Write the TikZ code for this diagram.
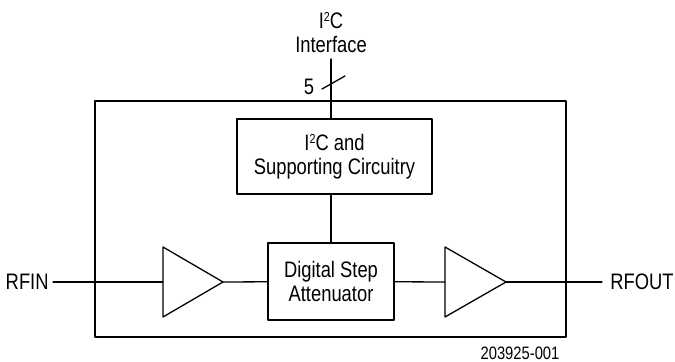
\documentclass[tikz,border=0pt]{standalone}
\usepackage{fontspec}
\setmainfont{Liberation Sans}[FakeStretch=0.82]
\usetikzlibrary{positioning}
\newcommand{\sqtwo}{\raisebox{0.55ex}{\fontsize{6.5}{6.5}\selectfont 2}}

\begin{document}
\begin{tikzpicture}[line cap=round,line join=round,x=0.5pt,y=-0.5pt,
    wire/.style={line width=0.65pt},
    blk/.style={draw,line width=0.65pt,align=center,inner sep=0pt},
    lbl/.style={font=\fontsize{11.2}{12}\selectfont,inner sep=2pt,align=center}]
\useasboundingbox (0,0) rectangle (675,362);
% outer chip box
\node[draw,line width=1.4pt,minimum width=235.5pt,minimum height=118pt] (chip) at (330.5,219) {};
% blocks
\node[blk,lbl,inner sep=0pt,minimum width=97.5pt,minimum height=37.5pt] (ctrl) at (334.5,156.5) {I\sqtwo C and\\Supporting Circuitry};
\node[blk,lbl,inner sep=0pt,minimum width=63pt,minimum height=38.5pt] (dsa) at (331,281.5) {Digital Step\\Attenuator};
% amplifiers
\draw[wire] (163,247) -- (223,282) -- (163,317) -- cycle;
\draw[wire] (445,247) -- (506,282) -- (445,317) -- cycle;
\coordinate (amp1in) at (163,282);
\coordinate (amp1out) at (223,282);
\coordinate (amp2in) at (445,282);
\coordinate (amp2out) at (506,282);
% pins
\node[lbl,anchor=east] (rfin) at (53,282) {RFIN};
\node[lbl,anchor=west,inner sep=4pt] (rfout) at (602,282) {RFOUT};
\node[lbl,anchor=south,inner sep=0pt] (i2c) at (331,53) {I\sqtwo C\\Interface};
\coordinate (bus) at (331,59);
\node[lbl,inner sep=0pt] (n5) at (309,87) {5};
\node[font=\fontsize{9}{10}\selectfont,inner sep=0pt] (fig) at (520,353) {203925-001};
% connections
\draw[wire] (rfin) -- (amp1in);
\draw[wire] (amp1out) -- (dsa);
\draw[wire] (dsa) -- (amp2in);
\draw[wire] (amp2out) -- (rfout);
\draw[wire] (bus) -- (bus |- ctrl.north);
\draw[wire] (ctrl.south -| dsa.north) -- (dsa.north);
\draw[wire] (322,89) -- (345,76);
\end{tikzpicture}
\end{document}
